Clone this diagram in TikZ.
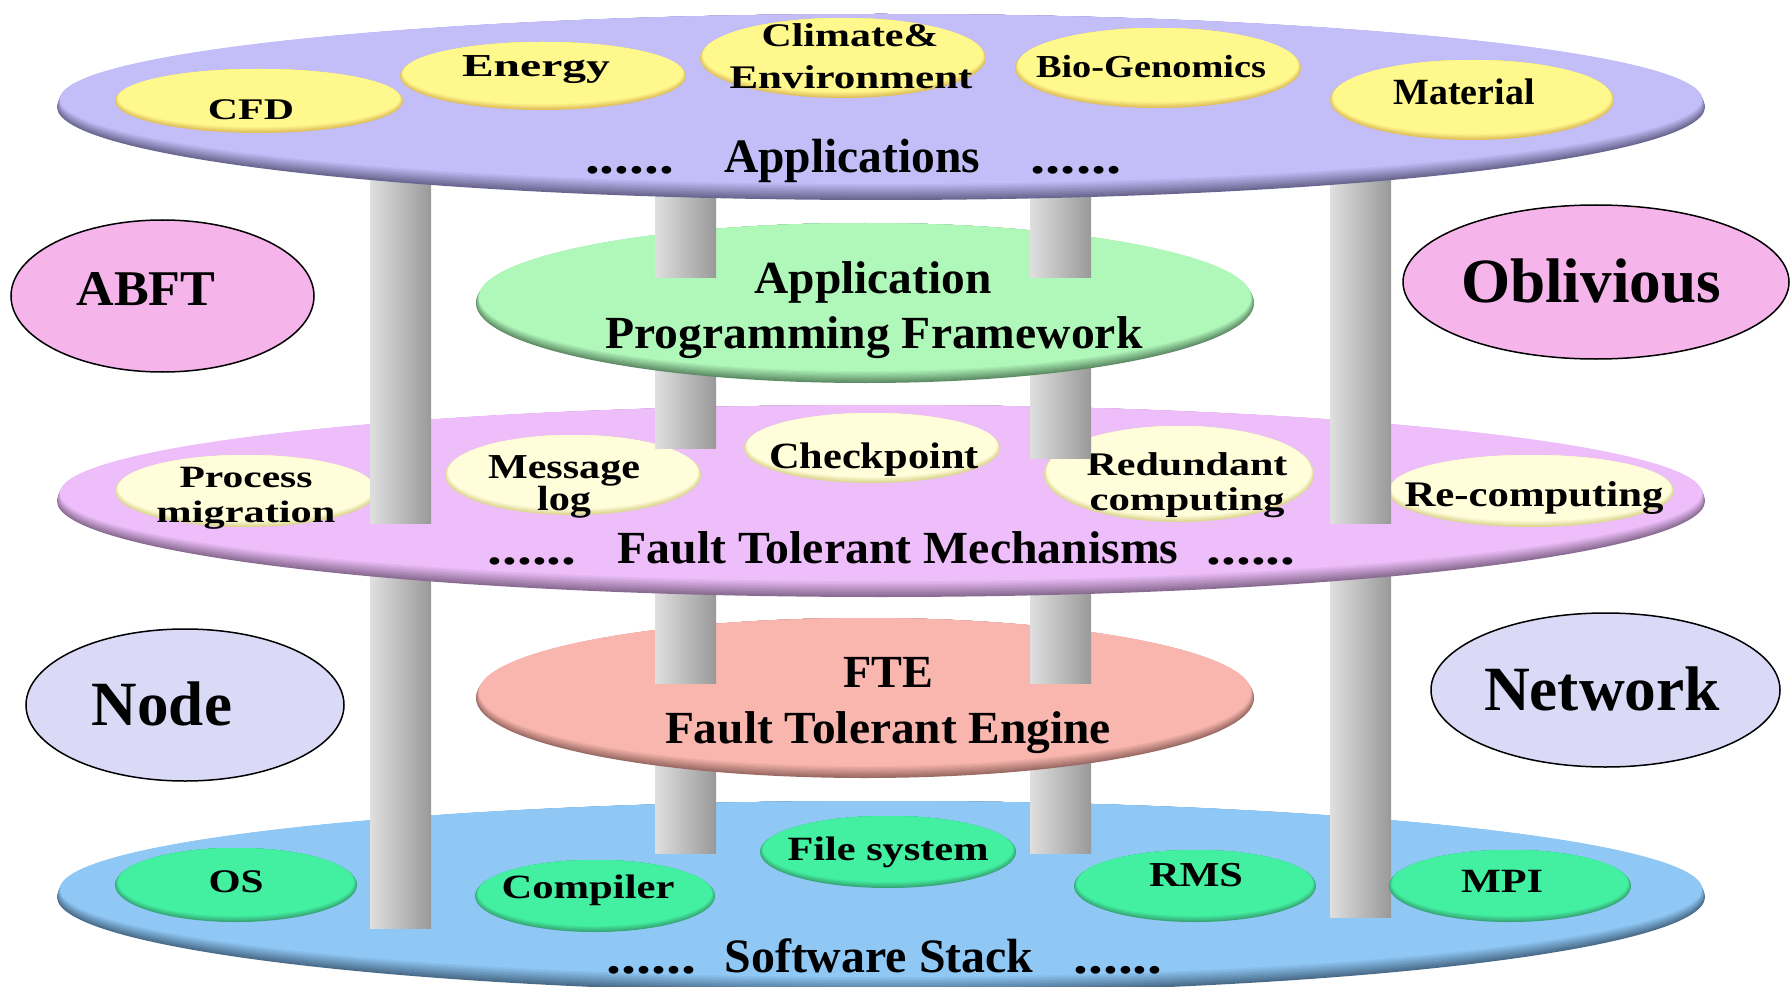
\documentclass[tikz,border=0pt]{standalone}
\usepackage{fontspec}
\setmainfont{Liberation Serif}
\usepackage{graphicx}
\definecolor{topC}{HTML}{C3BEF8}\definecolor{topD}{HTML}{6A6690}
\definecolor{ftmC}{HTML}{EEBEFB}\definecolor{ftmD}{HTML}{8A6C92}
\definecolor{bluC}{HTML}{8FC8F5}\definecolor{bluD}{HTML}{4A6C8A}
\definecolor{grnC}{HTML}{B0F8BA}\definecolor{grnD}{HTML}{5E8C66}
\definecolor{fteC}{HTML}{F9B6AE}\definecolor{fteD}{HTML}{9A6A64}
\definecolor{yelC}{HTML}{FFF88C}\definecolor{yelD}{HTML}{E0BE5C}
\definecolor{creC}{HTML}{FFFDDA}\definecolor{creD}{HTML}{DCD690}
\definecolor{mntC}{HTML}{43EFA0}\definecolor{mntD}{HTML}{36A676}
\definecolor{pnkC}{HTML}{F5B4EA}
\definecolor{lavC}{HTML}{DAD9F6}
\newcommand\wt[3]{\fontsize{#1}{#1}\selectfont\resizebox{#2pt}{\height}{#3}}
% cx cy rx ry color dark depth
\newcommand\layerdisk[7]{%
  \foreach \k in {0,...,10}{%
    \pgfmathtruncatemacro\mypc{10*\k}%
    \pgfmathsetmacro\mydd{#7*\k/10}%
    \pgfmathsetmacro\myrx{#3-0.3*\k}%
    \pgfmathsetmacro\myry{#4-\mydd}%
    \fill[#5!\mypc!#6] (#1,{#2-\mydd}) ellipse [x radius=\myrx, y radius=\myry];
  }}
\newcommand\pillar[3]{\shade[left color=gray!25, right color=gray!80] (#1,#2) rectangle ({#1+61},#3);}
\begin{document}
\begin{tikzpicture}[x=1pt,y=-1pt,
  lbl/.style={inner sep=0pt, anchor=base, font=\bfseries},
  side/.style={draw=black, line width=1.5pt}]
\useasboundingbox (0,0) rectangle (1791,987);
\fill[white] (0,0) rectangle (1791,987);

% ---- Software stack disk
\layerdisk{881}{897}{824}{96}{bluC}{bluD}{8}
\pillar{370}{560}{928}
\pillar{1330}{560}{917}
\pillar{655}{740}{853}
\pillar{1030}{740}{853}
\layerdisk{236}{885}{121}{37}{mntC}{mntD}{3}
\layerdisk{595}{896}{120}{36}{mntC}{mntD}{3}
\layerdisk{888}{852}{128}{36}{mntC}{mntD}{3}
\layerdisk{1195}{886}{121}{36}{mntC}{mntD}{3}
\layerdisk{1510}{886}{121}{36}{mntC}{mntD}{3}
\node[lbl] (os) at (236,892) {\wt{33}{55}{OS}};
\node[lbl] (comp) at (588,898) {\wt{34}{173}{Compiler}};
\node[lbl] (fs) at (888,860) {\wt{34}{201}{File system}};
\node[lbl] (rms) at (1196,886) {\wt{35}{94}{RMS}};
\node[lbl] (mpi) at (1502,892) {\wt{34}{82}{MPI}};
\node[lbl] (ss) at (879,972) {\wt{48}{309}{Software Stack}};
\node[lbl] (ssL) at (651,973) {\wt{48}{90}{......}};
\node[lbl] (ssR) at (1118,973) {\wt{48}{89}{......}};

% ---- FTE
\layerdisk{865}{698}{389}{80}{fteC}{fteD}{6}
\node[lbl] (fte1) at (888,687) {\wt{46}{90}{FTE}};
\node[lbl] (fte2) at (888,743) {\wt{46}{446}{Fault Tolerant Engine}};
\pillar{655}{570}{683}
\pillar{1030}{570}{683}

% ---- Fault tolerant mechanisms disk
\layerdisk{881}{501}{824}{96}{ftmC}{ftmD}{8}
\layerdisk{246}{491}{131}{36}{creC}{creD}{3}
\layerdisk{573}{475}{128}{40}{creC}{creD}{3}
\layerdisk{872}{448}{128}{35}{creC}{creD}{3}
\layerdisk{1179}{474}{135}{48}{creC}{creD}{3}
\layerdisk{1531}{491}{143}{36}{creC}{creD}{3}
\node[lbl] (proc1) at (246,487) {\wt{31}{133}{Process}};
\node[lbl] (proc2) at (246,522) {\wt{31}{179}{migration}};
\node[lbl] (msg1) at (564,478) {\wt{35}{152}{Message}};
\node[lbl] (msg2) at (564,510) {\wt{35}{54}{log}};
\node[lbl] (chk) at (874,468) {\wt{37}{210}{Checkpoint}};
\node[lbl] (red1) at (1187,475) {\wt{33}{201}{Redundant}};
\node[lbl] (red2) at (1187,510) {\wt{33}{195}{computing}};
\node[lbl] (recomp) at (1534,506) {\wt{36}{259}{Re-computing}};
\node[lbl] (ftm) at (898,563) {\wt{46}{561}{Fault Tolerant Mechanisms}};
\node[lbl] (ftmL) at (532,564) {\wt{46}{89}{......}};
\node[lbl] (ftmR) at (1251,564) {\wt{46}{89}{......}};
\pillar{370}{150}{523}
\pillar{1330}{150}{523}
\pillar{655}{340}{448}
\pillar{1030}{340}{458}

% ---- Application programming framework
\layerdisk{865}{303}{389}{80}{grnC}{grnD}{6}
\node[lbl] (apf1) at (873,293) {\wt{46}{237}{Application}};
\node[lbl] (apf2) at (874,348) {\wt{46}{537}{Programming Framework}};
\pillar{655}{150}{277}
\pillar{1030}{150}{277}

% ---- Applications disk
\layerdisk{881}{107}{824}{93}{topC}{topD}{8}
\layerdisk{259}{101}{144}{32}{yelC}{yelD}{3}
\layerdisk{543}{76}{143}{34}{yelC}{yelD}{3}
\layerdisk{843}{58}{143}{40}{yelC}{yelD}{3}
\layerdisk{1158}{68}{143}{40}{yelC}{yelD}{3}
\layerdisk{1472}{100}{142}{40}{yelC}{yelD}{3}
\node[lbl] (cfd) at (251,120) {\wt{30}{86}{CFD}};
\node[lbl] (energy) at (536,77) {\wt{32}{148}{Energy}};
\node[lbl] (clim1) at (850,47) {\wt{33}{177}{Climate\&}};
\node[lbl] (clim2) at (851,89) {\wt{33}{243}{Environment}};
\node[lbl] (bio) at (1151,78) {\wt{32}{230}{Bio-Genomics}};
\node[lbl] (mat) at (1464,105) {\wt{37}{141}{Material}};
\node[lbl] (apps) at (852,173) {\wt{48}{256}{Applications}};
\node[lbl] (appsL) at (629.5,174) {\wt{48}{89}{......}};
\node[lbl] (appsR) at (1076,174) {\wt{48}{91}{......}};

% ---- side ellipses
\draw[side, fill=pnkC] (162.5,296) ellipse [x radius=151.5, y radius=76];
\node[lbl] (abft) at (146,305) {\wt{50}{139}{ABFT}};
\draw[side, fill=pnkC] (1596,282) ellipse [x radius=193, y radius=77];
\node[lbl] (obl) at (1591,302) {\wt{63}{260}{Oblivious}};
\draw[side, fill=lavC] (185,705) ellipse [x radius=159, y radius=76];
\node[lbl] (node) at (162,725) {\wt{63}{140}{Node}};
\draw[side, fill=lavC] (1605.5,690) ellipse [x radius=174.5, y radius=77];
\node[lbl] (net) at (1602,710) {\wt{63}{236}{Network}};
\end{tikzpicture}
\end{document}
